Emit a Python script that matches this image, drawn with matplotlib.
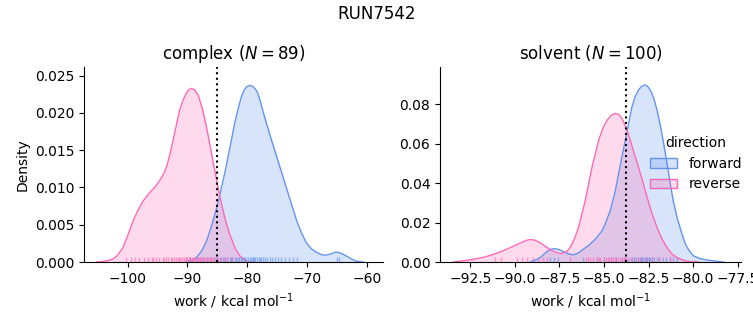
import matplotlib
matplotlib.use("Agg")
import matplotlib.pyplot as plt
import matplotlib.patches as mpatches

# colours for the two directions
FWD_COLOR = "#6495ED"   # cornflowerblue
REV_COLOR = "#FF69B4"   # hotpink

# ---- complex phase: density curves ----
complex_rev_x = [-105.2, -103.8, -102.5, -101.7, -100.8, -100.0, -99.1, -98.3, -97.4, -96.3,
                 -95.2, -94.5, -93.8, -93.3, -92.7, -92.0, -91.3, -90.7, -90.2, -89.8,
                 -89.3, -88.8, -88.2, -87.5, -86.8, -86.1, -85.4, -84.8, -84.3, -83.6,
                 -82.9, -82.0, -81.2, -80.1, -79.0]
complex_rev_y = [0.0, 0.0001, 0.00036, 0.0009, 0.0019, 0.0035, 0.0055, 0.0069, 0.0082, 0.0093,
                 0.0103, 0.0111, 0.0121, 0.0133, 0.0152, 0.0178, 0.0204, 0.0218, 0.0226, 0.0231,
                 0.0233, 0.0231, 0.0224, 0.0206, 0.0181, 0.0152, 0.0122, 0.0097, 0.0078, 0.0055,
                 0.0037, 0.0018, 0.0008, 0.0001, 0.0]

complex_fwd_x = [-90.2, -89.3, -88.5, -87.6, -86.8, -86.1, -85.4, -84.8, -84.3, -83.7,
                 -83.2, -82.6, -82.1, -81.5, -81.0, -80.5, -80.1, -79.6, -79.1, -78.6,
                 -78.2, -77.6, -77.1, -76.5, -75.9, -75.2, -74.5, -73.8, -73.1, -72.4,
                 -71.7, -70.9, -70.1, -69.3, -68.4, -67.6, -67.0, -66.4, -65.9, -65.3,
                 -64.8, -64.1, -63.4, -62.5, -61.7, -60.6]
complex_fwd_y = [0.0, 0.0002, 0.0006, 0.0015, 0.0028, 0.0045, 0.0064, 0.0082, 0.0100, 0.0121,
                 0.0141, 0.0165, 0.0186, 0.0206, 0.0221, 0.0231, 0.0235, 0.0237, 0.0236, 0.0232,
                 0.0226, 0.0210, 0.0195, 0.0179, 0.0163, 0.0145, 0.0127, 0.0109, 0.0091, 0.0073,
                 0.0055, 0.0039, 0.0026, 0.0018, 0.0013, 0.0010, 0.0009, 0.0010, 0.0011, 0.0013,
                 0.0013, 0.0011, 0.0008, 0.0004, 0.0001, 0.0]

# ---- solvent phase ----
solvent_rev_x = [-93.45, -92.9, -92.3, -91.7, -91.2, -90.7, -90.26, -89.9, -89.6, -89.35,
                 -89.14, -88.9, -88.58, -88.25, -87.92, -87.6, -87.36, -87.1, -86.9, -86.65,
                 -86.43, -86.05, -85.67, -85.3, -85.05, -84.83, -84.6, -84.37, -84.15, -83.99,
                 -83.75, -83.52, -83.3, -83.06, -82.8, -82.58, -82.3, -82.02, -81.75, -81.46,
                 -81.2, -80.9, -80.5, -80.15, -79.7]
solvent_rev_y = [0.0, 0.0006, 0.0014, 0.0025, 0.0039, 0.0055, 0.0073, 0.0088, 0.0100, 0.0110,
                 0.0114, 0.0111, 0.0098, 0.0077, 0.0058, 0.0046, 0.0043, 0.0052, 0.0073, 0.0118,
                 0.0175, 0.0311, 0.0481, 0.0617, 0.0680, 0.0719, 0.0743, 0.0754, 0.0747, 0.0728,
                 0.0680, 0.0617, 0.0550, 0.0481, 0.0400, 0.0328, 0.0245, 0.0175, 0.0118, 0.0073,
                 0.0042, 0.0022, 0.0008, 0.0002, 0.0]

solvent_fwd_x = [-89.14, -88.85, -88.58, -88.4, -88.2, -88.0, -87.79, -87.55, -87.27, -87.0,
                 -86.74, -86.45, -86.15, -85.85, -85.58, -85.35, -85.11, -84.9, -84.65, -84.4,
                 -84.18, -84.0, -83.8, -83.6, -83.43, -83.25, -83.06, -82.9, -82.72, -82.55,
                 -82.4, -82.2, -82.02, -81.83, -81.65, -81.45, -81.28, -81.1, -80.9, -80.65,
                 -80.43, -80.2, -79.97, -79.6, -79.2, -78.7, -78.3]
solvent_fwd_y = [0.0, 0.0010, 0.0022, 0.0037, 0.0053, 0.0064, 0.0068, 0.0064, 0.0053, 0.0042,
                 0.0036, 0.0045, 0.0065, 0.0085, 0.0107, 0.0130, 0.0158, 0.0200, 0.0260, 0.0345,
                 0.0447, 0.0530, 0.0617, 0.0710, 0.0787, 0.0838, 0.0872, 0.0890, 0.0898, 0.0891,
                 0.0872, 0.0830, 0.0770, 0.0690, 0.0600, 0.0495, 0.0396, 0.0305, 0.0226, 0.0150,
                 0.0090, 0.0055, 0.0031, 0.0017, 0.0010, 0.0004, 0.0]

# ---- rug (individual work values) ----
complex_rev_rug = [-100.2, -99.4, -98.7, -98.1, -97.3, -96.6, -96.0, -95.7, -95.2, -94.8, -94.1,
                   -93.9, -93.6, -93.2, -92.8, -92.5, -92.3, -91.9, -91.6, -91.4, -91.2, -90.9,
                   -90.6, -90.3, -90.2, -90.0, -89.8, -89.6, -89.5, -89.3, -89.0, -88.9, -88.8,
                   -88.5, -88.2, -88.0, -87.9, -87.7, -87.4, -87.3, -87.1, -86.8, -86.5, -86.2,
                   -86.0, -85.9, -85.6, -85.2, -84.8, -84.4, -83.9, -83.3, -82.6]
complex_fwd_rug = [-89.6, -88.4, -87.5, -86.8, -86.2, -85.5, -85.0, -84.6, -84.1, -83.7, -83.3,
                   -82.9, -82.7, -82.5, -82.1, -81.8, -81.6, -81.4, -81.1, -80.8, -80.6, -80.5,
                   -80.2, -79.9, -79.6, -79.3, -79.1, -79.0, -78.9, -78.7, -78.4, -78.1, -77.8,
                   -77.6, -77.4, -77.0, -76.6, -76.2, -75.8, -75.3, -74.8, -74.3, -73.7, -73.0,
                   -72.3, -71.7, -65.0, -64.6]
solvent_rev_rug = [-91.1, -90.8, -89.9, -89.6, -89.3, -89.0, -88.7, -88.4, -88.2, -86.9, -86.0,
                   -85.9, -85.8, -85.6, -85.4, -85.3, -85.2, -85.0, -84.9, -84.8, -84.7, -84.6,
                   -84.5, -84.4, -84.3, -84.2, -84.1, -84.0, -83.9, -83.8, -83.7, -83.5, -83.3,
                   -83.1, -82.9, -82.6, -82.3, -81.9, -81.3]
solvent_fwd_rug = [-88.0, -87.8, -87.6, -86.2, -85.4, -85.0, -84.6, -84.3, -84.0, -83.8, -83.6,
                   -83.4, -83.3, -83.2, -83.1, -83.0, -82.9, -82.85, -82.8, -82.7, -82.65, -82.6,
                   -82.5, -82.45, -82.4, -82.3, -82.2, -82.0, -81.9, -81.7, -81.5, -81.3, -81.1,
                   -80.9]

# free energy estimates (dotted lines)
complex_dg = -85.0
solvent_dg = -83.75

panels = [
    dict(title=r"complex ($N = 89$)", xlim=(-107.3, -57.27), ylim=(0, 0.02617),
         fwd=(complex_fwd_x, complex_fwd_y), rev=(complex_rev_x, complex_rev_y),
         fwd_rug=complex_fwd_rug, rev_rug=complex_rev_rug, dg=complex_dg,
         xticks=[-100, -90, -80, -70, -60]),
    dict(title=r"solvent ($N = 100$)", xlim=(-94.2, -77.31), ylim=(0, 0.0989),
         fwd=(solvent_fwd_x, solvent_fwd_y), rev=(solvent_rev_x, solvent_rev_y),
         fwd_rug=solvent_fwd_rug, rev_rug=solvent_rev_rug, dg=solvent_dg,
         xticks=[-92.5, -90.0, -87.5, -85.0, -82.5, -80.0, -77.5]),
]

fig = plt.figure(figsize=(7.53, 3.25), dpi=100)
ax1 = fig.add_axes([84 / 753, 63 / 325, 299 / 753, 195 / 325])
ax2 = fig.add_axes([440 / 753, 63 / 325, 301 / 753, 195 / 325])

for ax, p in zip([ax1, ax2], panels):
    for (xs, ys), col in [(p["fwd"], FWD_COLOR), (p["rev"], REV_COLOR)]:
        ax.fill_between(xs, ys, color=col, alpha=0.25, lw=0)
        ax.plot(xs, ys, color=col, lw=1)
    ax.vlines(p["fwd_rug"], 0, 0.025, color=FWD_COLOR, alpha=0.6, lw=1,
              transform=ax.get_xaxis_transform())
    ax.vlines(p["rev_rug"], 0, 0.025, color=REV_COLOR, alpha=0.6, lw=1,
              transform=ax.get_xaxis_transform())
    ax.axvline(p["dg"], color="black", ls=":", lw=1.5)
    ax.set_xlim(*p["xlim"])
    ax.set_ylim(*p["ylim"])
    ax.set_xticks(p["xticks"])
    ax.set_title(p["title"])
    ax.set_xlabel(r"work / kcal mol$^{-1}$")
    ax.spines["top"].set_visible(False)
    ax.spines["right"].set_visible(False)

ax1.set_ylabel("Density")

handles = [mpatches.Patch(facecolor=(0.392, 0.584, 0.929, 0.25), edgecolor=FWD_COLOR, label="forward"),
           mpatches.Patch(facecolor=(1.0, 0.412, 0.706, 0.25), edgecolor=REV_COLOR, label="reverse")]
ax2.legend(handles=handles, title="direction", loc="center right", frameon=False,
           bbox_to_anchor=(1.045, 0.505))

fig.suptitle("RUN7542", y=0.985)
fig.savefig("out.png", dpi=100)
